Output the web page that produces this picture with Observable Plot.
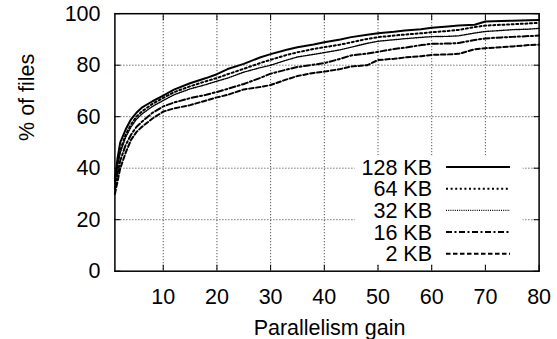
<!DOCTYPE html>
<html><head><meta charset="utf-8">
<script src="https://cdn.jsdelivr.net/npm/d3@7"></script>
<script src="https://cdn.jsdelivr.net/npm/@observablehq/plot@0.6"></script>
<style>html,body{margin:0;padding:0;background:#fff} svg{display:block}</style>
</head><body><div id="chart"></div>
<script>
// ---- data ----
const gains = [1, 1.5, 2, 3, 4, 5, 6, 8, 10, 12, 15, 18, 20, 22, 25, 28, 30, 33, 35, 38, 40, 43, 45, 48, 50, 53, 55, 58, 60, 63, 65, 68, 70, 73, 75, 78, 80];
const kb128 = [36, 44, 50, 55, 59, 61.5, 63.5, 66, 68.2, 70.5, 73, 75, 76.5, 78.5, 80.5, 83, 84.3, 86, 87, 88, 88.9, 90, 90.9, 91.8, 92.4, 93, 93.5, 94, 94.5, 95, 95.4, 95.7, 97, 97.2, 97.3, 97.5, 97.6];
const kb64 = [35, 42, 47, 53, 57, 60, 62, 65, 67.3, 69.5, 71.8, 73.8, 75, 76.5, 78.6, 80.8, 82.1, 84, 85, 86.3, 87, 88, 88.9, 90.2, 90.9, 91.5, 91.9, 92.4, 92.8, 93.3, 93.7, 94.8, 95.4, 95.7, 95.9, 96.2, 96.5];
const kb32 = [34, 41, 46, 52, 56, 59, 61, 64, 66.3, 68.5, 70.8, 72.5, 73.8, 75, 77.3, 79, 80, 82, 83.2, 84.2, 84.9, 86, 87, 88.5, 89.3, 89.9, 90.3, 90.8, 91.1, 91.2, 91.4, 92.5, 93.1, 93.5, 93.8, 94, 94.3];
const kb16 = [32, 38, 43, 49, 53, 56, 58, 61.5, 64, 65.5, 67.2, 68.5, 69.6, 70.8, 72.7, 75, 76.7, 78.3, 79.3, 80.2, 80.8, 82.5, 83.8, 84.5, 85.2, 86.3, 86.8, 87.8, 88.3, 88.4, 88.6, 89.8, 90.4, 90.8, 91, 91.3, 91.5];
const kb2 = [30, 35, 40, 46, 51, 54, 56, 59.3, 62, 63.2, 64.5, 66.3, 67.5, 68.5, 70.6, 71.5, 72.3, 74.5, 75.8, 77, 77.5, 78.5, 79.5, 80, 82, 82.5, 83, 83.5, 84, 84.2, 84.4, 86.2, 86.6, 87, 87.3, 87.8, 88];
const seriesNames = ["128 KB", "64 KB", "32 KB", "16 KB", "2 KB"];
const seriesValues = [kb128, kb64, kb32, kb16, kb2];
const xTicks = [10, 20, 30, 40, 50, 60, 70, 80];
const yTicks = [0, 20, 40, 60, 80, 100];

// ---- styles ----
const lineStyles = [
  {dash: null, width: 2},
  {dash: "2,2.6", width: 2},
  {dash: "1,1.2", width: 1.4},
  {dash: "6,2.5,2,2.5", width: 2},
  {dash: "4.5,2.5", width: 2}
];
const W = 557, H = 339, mL = 114.4, mR = 18.4, mT = 13.2, mB = 68.3;
const FONT = "'Liberation Sans', Arial, Helvetica, sans-serif";
const FS = 21.5;

const table = seriesNames.map((name, i) => gains.map((g, j) => ({series: name, gain: g, pct: seriesValues[i][j]})));

const gridStyle = {stroke: "#000", strokeOpacity: 0.8, strokeDasharray: "1,2", strokeWidth: 1};

const plot = Plot.plot({
  width: W, height: H,
  marginLeft: mL, marginRight: mR, marginTop: mT, marginBottom: mB,
  style: {fontFamily: FONT, fontSize: FS + "px", background: "white", color: "black", overflow: "visible"},
  x: {domain: [1, 80]},
  y: {domain: [0, 100]},
  marks: [
    Plot.gridX(xTicks.filter(d => d < 80), gridStyle),
    Plot.gridY(yTicks.filter(d => d > 0 && d < 100), gridStyle),
    ...table.map((rows, i) => Plot.line(rows, {
      x: "gain", y: "pct", stroke: "#000",
      strokeWidth: lineStyles[i].width,
      strokeDasharray: lineStyles[i].dash,
      strokeLinejoin: "round"
    })),
    Plot.axisX(xTicks, {anchor: "bottom", tickSize: -6, tickPadding: 24, label: null, fontSize: FS}),
    Plot.axisX(xTicks, {anchor: "top", tickSize: -6, tickFormat: () => "", label: null}),
    Plot.axisY(yTicks, {anchor: "left", tickSize: -6, tickPadding: 20.4, label: null, fontSize: FS}),
    Plot.axisY(yTicks, {anchor: "right", tickSize: -6, tickFormat: () => "", label: null}),
    Plot.frame({stroke: "#000", strokeWidth: 1.5}),
    Plot.text(["Parallelism gain"], {frameAnchor: "bottom", dx: 2.5, dy: 63.5, lineAnchor: "bottom", fontSize: FS}),
    Plot.text(["% of files"], {frameAnchor: "left", rotate: -90, dx: -81, dy: -1.5, lineAnchor: "bottom", fontSize: FS})
  ]
});

// ---- key (gnuplot-style, inside bottom right) ----
const svg = d3.select(plot);
const right = W - mR, bottom = H - mB;
const key = svg.append("g").attr("font-family", FONT).attr("font-size", FS);
key.append("rect")
  .attr("x", right - 184).attr("y", bottom - 115)
  .attr("width", 168).attr("height", 108)
  .attr("fill", "white");
seriesNames.forEach((name, i) => {
  const yy = bottom - 103.7 + i * 21.7;
  key.append("text")
    .attr("x", right - 106.6).attr("y", yy).attr("dy", "0.35em")
    .attr("text-anchor", "end").attr("fill", "black").text(name);
  key.append("line")
    .attr("x1", right - 92.6).attr("x2", right - 28.6)
    .attr("y1", yy).attr("y2", yy)
    .attr("stroke", "#000")
    .attr("stroke-width", lineStyles[i].width)
    .attr("stroke-dasharray", lineStyles[i].dash);
});

document.getElementById("chart").appendChild(plot);
</script>
</body></html>
